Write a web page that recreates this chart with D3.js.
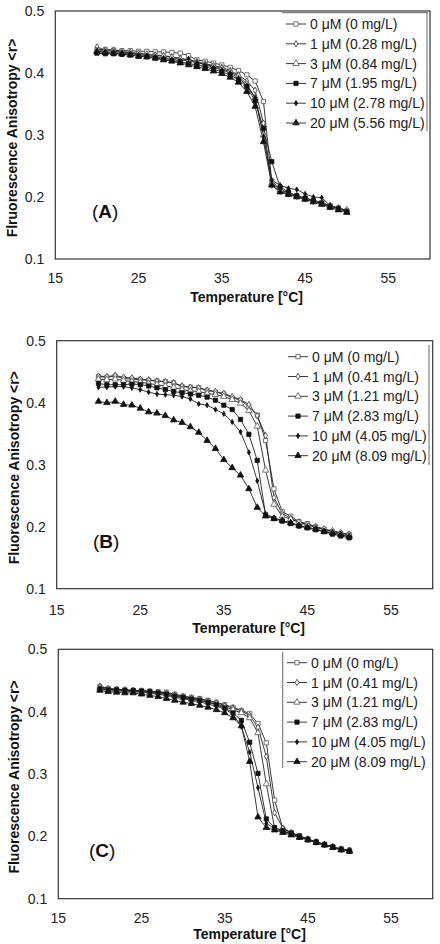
<!DOCTYPE html>
<html><head><meta charset="utf-8">
<script src="https://cdn.jsdelivr.net/npm/d3@7/dist/d3.min.js"></script>
<style>body{margin:0;background:#fff}svg{display:block}text{font-family:Arial,"Liberation Sans",sans-serif}</style>
</head><body><svg id="c" width="440" height="944"></svg>
<script>
// ---- data ----
const temps = d3.range(20, 51, 1);
const xTicks = [15, 25, 35, 45, 55];
const yTicks = [0.1, 0.2, 0.3, 0.4, 0.5];
const xTitle = "Temperature [°C]";

const legendA = ["0 μM (0 mg/L)", "1 μM (0.28 mg/L)", "3 μM (0.84 mg/L)", "7 μM (1.95 mg/L)", "10 μM (2.78 mg/L)", "20 μM (5.56 mg/L)"];
const legendB = ["0 μM (0 mg/L)", "1 μM (0.41 mg/L)", "3 μM (1.21 mg/L)", "7 μM (2.83 mg/L)", "10 μM (4.05 mg/L)", "20 μM (8.09 mg/L)"];
const legendC = ["0 μM (0 mg/L)", "1 μM (0.41 mg/L)", "3 μM (1.21 mg/L)", "7 μM (2.83 mg/L)", "10 μM (4.05 mg/L)", "20 μM (8.09 mg/L)"];

const A0  = [.438,.438,.437,.436,.436,.435,.435,.434,.434,.433,.432,.428,.421,.419,.416,.413,.409,.404,.397,.387,.354,.226,.212,.206,.201,.198,.195,.191,.186,.182,.178];
const A1  = [.442,.437,.437,.435,.433,.432,.430,.429,.428,.426,.424,.421,.418,.415,.412,.409,.404,.397,.387,.372,.319,.219,.209,.205,.201,.197,.193,.189,.185,.182,.178];
const A3  = [.436,.436,.435,.434,.432,.431,.430,.428,.427,.425,.422,.419,.417,.414,.411,.407,.402,.395,.382,.360,.300,.222,.212,.207,.202,.198,.194,.190,.186,.182,.179];
const A7  = [.432,.431,.431,.430,.429,.427,.426,.424,.422,.420,.418,.415,.413,.410,.406,.402,.397,.389,.378,.355,.311,.257,.216,.208,.202,.198,.194,.190,.184,.181,.176];
const A10 = [.435,.434,.433,.432,.431,.429,.428,.426,.424,.422,.420,.423,.417,.413,.409,.405,.400,.392,.380,.360,.298,.227,.219,.214,.212,.205,.200,.199,.186,.182,.177];
const A20 = [.434,.433,.432,.431,.429,.427,.426,.424,.421,.419,.416,.413,.410,.407,.403,.399,.393,.385,.370,.346,.289,.219,.208,.204,.200,.196,.192,.188,.183,.179,.175];

const B0  = [.442,.441,.443,.439,.438,.437,.436,.435,.434,.432,.426,.425,.424,.420,.417,.414,.408,.404,.394,.380,.339,.261,.224,.217,.208,.205,.200,.196,.192,.189,.188];
const B1  = [.443,.442,.444,.441,.440,.438,.437,.435,.434,.432,.427,.425,.424,.420,.418,.415,.410,.405,.397,.379,.347,.247,.221,.214,.207,.203,.200,.196,.193,.190,.187];
const B3  = [.438,.437,.438,.436,.434,.433,.431,.429,.427,.425,.421,.419,.418,.415,.413,.410,.405,.399,.387,.362,.291,.236,.217,.212,.207,.203,.199,.196,.193,.190,.187];
const B7  = [.431,.429,.429,.429,.430,.429,.427,.424,.421,.418,.416,.414,.412,.409,.404,.396,.389,.373,.349,.307,.219,.213,.209,.205,.201,.198,.195,.192,.188,.185,.182];
const B10 = [.425,.425,.426,.426,.424,.421,.417,.414,.413,.412,.410,.406,.398,.396,.389,.382,.369,.353,.320,.274,.221,.214,.210,.206,.202,.199,.196,.193,.190,.187,.184];
const B20 = [.402,.400,.402,.397,.396,.391,.385,.383,.379,.372,.368,.361,.352,.339,.326,.308,.295,.283,.261,.231,.217,.213,.210,.206,.202,.199,.196,.192,.190,.187,.184];

const C0  = [.440,.437,.436,.435,.434,.434,.433,.432,.431,.428,.425,.423,.421,.418,.415,.411,.407,.402,.397,.381,.350,.258,.212,.206,.201,.196,.191,.187,.183,.180,.178];
const C1  = [.441,.437,.436,.435,.434,.433,.432,.431,.430,.427,.424,.422,.420,.417,.414,.410,.406,.401,.394,.375,.328,.238,.213,.206,.200,.195,.191,.187,.183,.179,.177];
const C3  = [.438,.436,.435,.434,.433,.432,.431,.430,.428,.425,.422,.420,.418,.415,.412,.408,.403,.398,.390,.366,.284,.213,.208,.204,.199,.195,.190,.186,.182,.179,.177];
const C7  = [.436,.435,.435,.434,.434,.433,.432,.430,.428,.425,.423,.420,.418,.415,.411,.406,.398,.386,.351,.301,.228,.214,.209,.205,.200,.195,.191,.187,.183,.179,.176];
const C10 = [.437,.434,.433,.433,.432,.431,.430,.428,.426,.423,.421,.418,.416,.412,.409,.404,.396,.376,.335,.278,.221,.212,.208,.204,.199,.195,.190,.186,.183,.179,.177];
const C20 = [.434,.432,.431,.430,.430,.428,.426,.424,.421,.418,.415,.413,.410,.407,.403,.398,.390,.377,.320,.231,.214,.210,.206,.202,.198,.194,.190,.186,.182,.178,.176];

// ---- markers per series ----
const markerStyles = [
  {type: d3.symbolSquare,   size: 18, fill: "#fff", stroke: "#555"},
  {type: d3.symbolDiamond,  size: 12, fill: "#fff", stroke: "#333"},
  {type: d3.symbolTriangle, size: 18, fill: "#fff", stroke: "#555"},
  {type: d3.symbolSquare,   size: 18, fill: "#111", stroke: "#111"},
  {type: d3.symbolDiamond,  size: 8,  fill: "#111", stroke: "#111"},
  {type: d3.symbolTriangle, size: 18, fill: "#111", stroke: "#111"}
];

const panels = [
  {letter:"A", yTitle:"Flruorescence Anisotropy <r>", series:[A0,A1,A3,A7,A10,A20], legend:legendA,
   left:55.3, right:430, top:11, bottom:259, tickDy:24, titleDy:43, yTitleX:12,
   leg:{x:286, y:24, dy:19.8, lines:[[282,12.7,428,12.7],[427,12.7,427,131]]}, lab:{x:92, y:218}},
  {letter:"B", yTitle:"Fluorescence Anisotropy <r>", series:[B0,B1,B3,B7,B10,B20], legend:legendB,
   left:56.7, right:432.7, top:340.7, bottom:588.7, tickDy:26, titleDy:44, yTitleX:13.5,
   leg:{x:288, y:356.7, dy:19.8, lines:[[429,345,429,465]]}, lab:{x:93, y:548}},
  {letter:"C", yTitle:"Fluorescence Anisotropy <r>", series:[C0,C1,C3,C7,C10,C20], legend:legendC,
   left:58.3, right:432.7, top:649.3, bottom:898.7, tickDy:24, titleDy:40, yTitleX:14,
   leg:{x:287, y:662.7, dy:19.8, lines:[[282.7,651.7,282.7,768]]}, lab:{x:89, y:857}}
];

const svg = d3.select("#c");

panels.forEach(p => {
  const x = d3.scaleLinear().domain([15, 60]).range([p.left, p.right]);
  const y = d3.scaleLinear().domain([0.1, 0.5]).range([p.bottom, p.top]);
  const g = svg.append("g");

  g.append("rect").attr("x", p.left).attr("y", p.top)
    .attr("width", p.right - p.left).attr("height", p.bottom - p.top)
    .attr("fill", "none").attr("stroke", "#333").attr("stroke-width", 1.2);

  g.selectAll(".yt").data(yTicks).join("text")
    .attr("x", p.left - 11).attr("y", d => y(d) + 5)
    .attr("text-anchor", "end").attr("font-size", 14).attr("fill", "#222")
    .text(d => d3.format(".1f")(d));

  g.selectAll(".xt").data(xTicks).join("text")
    .attr("x", d => x(d)).attr("y", p.bottom + p.tickDy)
    .attr("text-anchor", "middle").attr("font-size", 14).attr("fill", "#222")
    .text(d => d);

  g.append("text").attr("x", (x(15) + x(60)) / 2 + 4).attr("y", p.bottom + p.titleDy)
    .attr("text-anchor", "middle").attr("font-size", 14).attr("font-weight", "bold").attr("fill", "#111")
    .text(xTitle);

  g.append("text")
    .attr("transform", `translate(${p.yTitleX},${(p.top + p.bottom) / 2 + 3}) rotate(-90)`)
    .attr("text-anchor", "middle").attr("dominant-baseline", "central")
    .attr("font-size", 14).attr("font-weight", "bold").attr("fill", "#111")
    .text(p.yTitle);

  const lt = g.append("text").attr("x", p.lab.x).attr("y", p.lab.y).attr("font-size", 19).attr("fill", "#111");
  lt.append("tspan").text("(");
  lt.append("tspan").attr("font-weight", "bold").text(p.letter);
  lt.append("tspan").text(")");

  const line = d3.line().x((d, i) => x(temps[i])).y(d => y(d));
  p.series.forEach((s, k) => {
    g.append("path").datum(s).attr("d", line)
      .attr("fill", "none").attr("stroke", "#222").attr("stroke-width", 0.9);
  });
  p.series.forEach((s, k) => {
    const m = markerStyles[k];
    g.selectAll(null).data(s).join("path")
      .attr("transform", (d, i) => `translate(${x(temps[i])},${y(d)})`)
      .attr("d", d3.symbol().type(m.type).size(m.size))
      .attr("fill", m.fill).attr("stroke", m.stroke).attr("stroke-width", 0.8);
  });

  p.leg.lines.forEach(l => {
    g.append("line").attr("x1", l[0]).attr("y1", l[1]).attr("x2", l[2]).attr("y2", l[3])
      .attr("stroke", "#666").attr("stroke-width", 1);
  });
  p.legend.forEach((lab, k) => {
    const ly = p.leg.y + k * p.leg.dy;
    const m = markerStyles[k];
    g.append("line").attr("x1", p.leg.x).attr("x2", p.leg.x + 20).attr("y1", ly).attr("y2", ly)
      .attr("stroke", "#222").attr("stroke-width", 0.9);
    g.append("path").attr("transform", `translate(${p.leg.x + 10},${ly})`)
      .attr("d", d3.symbol().type(m.type).size(m.size))
      .attr("fill", m.fill).attr("stroke", m.stroke).attr("stroke-width", 0.8);
    g.append("text").attr("x", p.leg.x + 24).attr("y", ly + 5)
      .attr("font-size", 14).attr("fill", "#222").text(lab);
  });
});
</script></body></html>
